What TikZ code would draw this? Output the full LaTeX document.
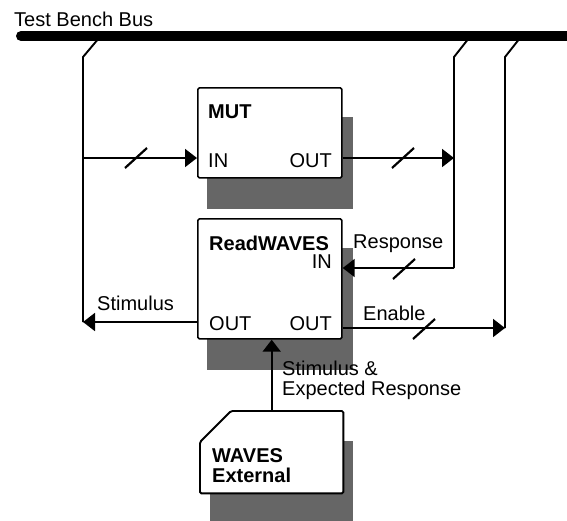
\documentclass[tikz,border=0pt]{standalone}
\usepackage{fontspec}
\setmainfont{Liberation Sans}
\usetikzlibrary{arrows.meta,calc,positioning,backgrounds}

\tikzset{
  blk/.style={draw, line width=1.7pt, fill=white, rounded corners=1.5pt,
    minimum width=144pt, anchor=north west, inner sep=0pt},
  lbl/.style={inner sep=0pt, font=\fontsize{20}{24}\selectfont},
  bname/.style={inner sep=0pt, font=\fontsize{20}{24}\selectfont\bfseries},
  wire/.style={line width=1.9pt},
  bus/.style={line width=10pt, line cap=round},
  slash/.style={line width=2.2pt},
  shadowfill/.style={fill=black!60},
}

\begin{document}
\begin{tikzpicture}[x=1pt, y=-1pt, >={Triangle[length=12pt,width=18pt]}]
    \useasboundingbox (0,0) rectangle (567,520);
    % blocks
    \node[blk, minimum height=90pt] (mut) at (197,87) {};
    \node[blk, minimum height=120pt] (rw) at (197,218) {};
    \node[inner sep=0pt, minimum width=143pt, minimum height=82pt, anchor=north west] (waves) at (200,411) {};
    \draw[wire, fill=white, rounded corners=1.5pt] ($(waves.north west)+(31,0)$) -- (waves.north east)
      -- (waves.south east) -- (waves.south west) -- ($(waves.north west)+(0,31)$) -- cycle;
    % shadows
    \begin{scope}[on background layer]
      \foreach \b in {mut,rw,waves}
        \fill[shadowfill] ($(\b.north west)+(10,30)$) rectangle ($(\b.south east)+(10,30)$);
    \end{scope}
    % labels
    \node[lbl, anchor=base west] (title) at (14,26) {Test Bench Bus};
    \node[bname, anchor=base west] (mutname) at (208,118) {MUT};
    \node[lbl, anchor=base west] (mutin) at (208,167) {IN};
    \node[lbl, anchor=base east] (mutout) at (332,167) {OUT};
    \node[bname, anchor=base west] (rwname) at (209,250) {ReadWAVES};
    \node[lbl, anchor=base east] (rwin) at (332,268) {IN};
    \node[lbl, anchor=base west] (rwoutA) at (209,330) {OUT};
    \node[lbl, anchor=base east] (rwoutB) at (332,330) {OUT};
    \node[bname, anchor=base west] (wavesA) at (212,462) {WAVES};
    \node[bname, anchor=base west] (wavesB) at (212,482) {External};
    \node[lbl, anchor=base west] (resp) at (353,248) {Response};
    \node[lbl, anchor=base west] (stim) at (97,310) {Stimulus};
    \node[lbl, anchor=base west] (ena) at (363,320) {Enable};
    \node[lbl, anchor=base west] (serA) at (282,375) {Stimulus \&};
    \node[lbl, anchor=base west] (serB) at (282,395) {Expected Response};
    % bus and taps
    \coordinate (busW) at (21,36);  \coordinate (busE) at (567,36);
    \draw[bus] (busW) -- (busE);
    \coordinate (tapA) at (99,38);  \coordinate (kneeA) at (83,57);  \coordinate (stimEnd) at (83,322);
    \coordinate (tapB) at (469,38); \coordinate (kneeB) at (454,57); \coordinate (respEnd) at (454,268);
    \coordinate (tapC) at (520,38); \coordinate (kneeC) at (505,57); \coordinate (enaEnd) at (505,328);
    \coordinate (inJoin) at (83,158); \coordinate (outJoin) at (454,158);
    \draw[wire] (tapA) -- (kneeA) -- (stimEnd);
    \draw[wire] (tapB) -- (kneeB) -- (respEnd);
    \draw[wire] (tapC) -- (kneeC) -- (enaEnd);
    % signals
    \draw[wire,->] (inJoin) -- (inJoin -| mut.west);
    \draw[wire,->] (outJoin -| mut.east) -- (outJoin);
    \draw[wire,->] (respEnd) -- (respEnd -| rw.east);
    \draw[wire,->] (enaEnd -| rw.east) -- (enaEnd);
    \draw[wire,->] (stimEnd -| rw.west) -- (stimEnd);
    \draw[wire,->] (waves.north) -- (waves.north |- rw.south);
    % bus width marks
    \foreach \p in {(136,158),(403,158),(404,269),(424,329)}
      \draw[slash] \p +(-11,10) -- +(11,-10);
\end{tikzpicture}
\end{document}
